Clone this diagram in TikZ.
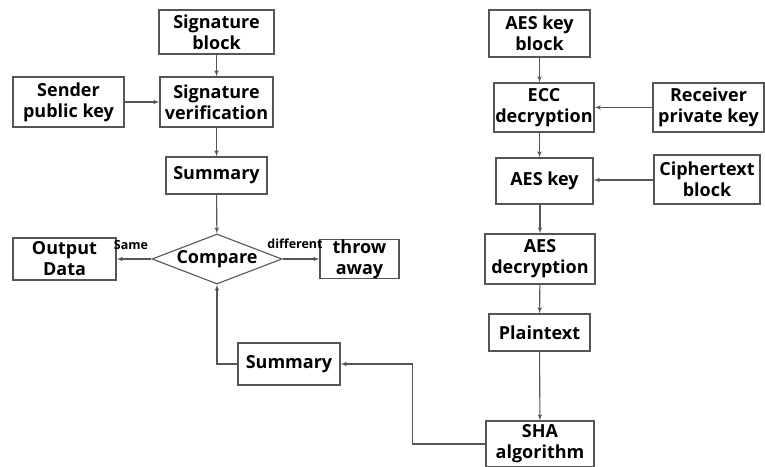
\documentclass[tikz,border=0pt]{standalone}
\usepackage{fontspec}
\setmainfont{Open Sans}
\usetikzlibrary{arrows,shapes.geometric}
\definecolor{linegray}{HTML}{555555}

\begin{document}
\begin{tikzpicture}[x=1pt,y=-1pt]
\tikzset{box/.style = {draw=linegray, line width=1.1pt, rectangle, align=center, inner sep=0pt,
		font=\bfseries\fontsize{18}{21}\selectfont}}
\tikzset{decision/.style = {box, diamond, aspect=2.6}}
\tikzset{edge/.style = {->, > = latex', draw=linegray, line width=1.1pt}}
\tikzset{tag/.style = {font=\bfseries\fontsize{12.5}{14}\selectfont, inner sep=0pt}}
\useasboundingbox (0,0) rectangle (765,466);
% left side
\node[box, minimum width=115, minimum height=44] (sigblock) at (216.5,32) {Signature\\block};
\node[box, minimum width=111, minimum height=50] (sender) at (68.5,102) {Sender\\public key};
\node[box, minimum width=113, minimum height=50] (sigver) at (216.5,102) {Signature\\verification};
\node[box, minimum width=101, minimum height=37] (sum1) at (216.5,175.5) {Summary};
\node[decision, minimum width=130, minimum height=50] (cmp) at (217,259) {Compare};
\node[box, minimum width=103, minimum height=42] (out) at (64.5,259) {Output\\Data};
\node[box, minimum width=79, minimum height=36] (throw) at (359.5,259) {throw\\away};
\node[box, minimum width=102, minimum height=42] (sum2) at (289,364) {Summary};
\node[tag] (same) at (131,245) {Same};
\node[tag] (diff) at (295,244) {different};
% right side
\node[box, minimum width=101, minimum height=47] (aesblock) at (539.5,33.5) {AES key\\block};
\node[box, minimum width=100, minimum height=49] (ecc) at (544,107.5) {ECC\\decryption};
\node[box, minimum width=111, minimum height=49] (recv) at (708.5,107.5) {Receiver\\private key};
\node[box, minimum width=97, minimum height=46] (aeskey) at (544.5,181) {AES key};
\node[box, minimum width=106, minimum height=49] (cipher) at (707,179.5) {Ciphertext\\block};
\node[box, minimum width=110, minimum height=50] (aesdec) at (540,259) {AES\\decryption};
\node[box, minimum width=101, minimum height=37] (plain) at (539.5,332.5) {Plaintext};
\node[box, minimum width=108, minimum height=46] (sha) at (540,444) {SHA\\algorithm};

%edges
\draw[edge] (sigblock) to (sigver);
\draw[edge] (sender) to (sigver);
\draw[edge] (sigver) to (sum1);
\draw[edge] (sum1) to (cmp);
\draw[edge] (cmp) to (out);
\draw[edge] (cmp) to (throw);
\draw[edge] (sum2.west) -| (cmp.south);
\draw[edge] (sha.west) -- ++(-73,0) |- (sum2.east);

\draw[edge] (aesblock) to (aesblock |- ecc.north);
\draw[edge] (recv) to (ecc);
\draw[edge] (aesblock |- ecc.south) to (aesblock |- aeskey.north);
\draw[edge] (cipher.west |- 0,180) to (aeskey.east |- 0,180);
\draw[edge] (aesdec |- aeskey.south) to (aesdec);
\draw[edge] (aesdec) to (plain);
\draw[edge] (plain) to (sha);
\end{tikzpicture}
\end{document}
